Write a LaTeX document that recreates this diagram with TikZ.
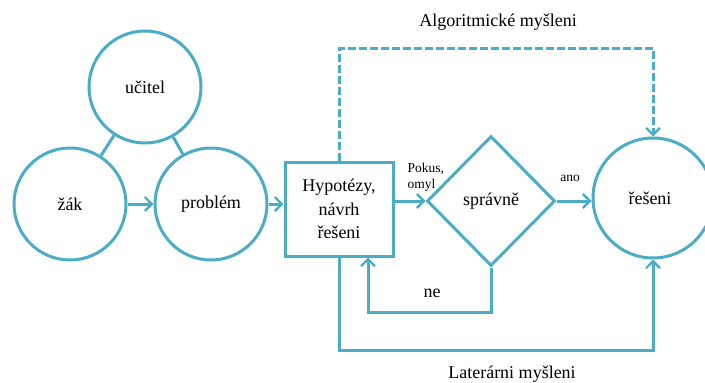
\documentclass[tikz,border=0pt]{standalone}
\usepackage{fontspec}
\setmainfont{Liberation Serif}
\usetikzlibrary{shapes.geometric,arrows.meta}
\definecolor{aqua}{RGB}{75, 172, 198}

\begin{document}
\begin{tikzpicture}[x=1pt,y=-1pt]
    \tikzstyle{cblock} = [circle, draw=aqua, line width=3pt, fill=white,
    minimum size=112pt, inner sep=0pt, font=\fontsize{18}{22}\selectfont];
    \tikzstyle{hblock} = [rectangle, draw=aqua, line width=3pt, fill=white,
    minimum width=108pt, minimum height=94pt, text width=100pt, align=center,
    font=\fontsize{18}{23.5}\selectfont];
    \tikzstyle{dblock} = [diamond, draw=aqua, line width=3pt, fill=white,
    minimum width=128pt, minimum height=130pt, inner sep=0pt, font=\fontsize{18}{22}\selectfont];
    \tikzstyle{lbl} = [font=\fontsize{18}{22}\selectfont];
    \tikzstyle{small} = [font=\fontsize{13.5}{16}\selectfont, align=left];
    \tikzstyle{link} = [draw=aqua, line width=3pt];
    \tikzstyle{line} = [link, -{Straight Barb[length=7pt,width=14pt,line width=2.4pt]}];
    \useasboundingbox (0,0) rectangle (705,383);
    \begin{scope}
      \clip (0,0) rectangle (705,383);
      % circles of the classroom
      \node [cblock] (ucitel) at (145,87) {u\v{c}itel};
      \node [cblock] (zak) at (70,204) {\v{z}\'ak};
      \node [cblock] (problem) at (211,204) {probl\'em};
      % the solving part
      \node [hblock] (hypo) at (339,209) {Hypot\'ezy,\\ n\'avrh\\ \v{r}e\v{s}eni};
      \node [dblock] (spravne) at (491,201) {spr\'avn\v{e}};
      \node [cblock, minimum size=120pt] (reseni) at (653,198) {};
    \end{scope}
    \node [lbl] at (650,198) {\v{r}e\v{s}eni};

    \coordinate (top) at (0,48);
    \coordinate (neline) at (0,312);
    \coordinate (bottom) at (0,350);

    % % Drawing the links
    \draw [link] (ucitel) -- (zak);
    \draw [link] (ucitel) -- (problem);
    \draw [line] (zak) -- (problem);
    \draw [line] (problem.east) -- (problem.east -| hypo.west);
    \draw [line] (hypo.east |- spravne.west) -- (spravne.west);
    \draw [line] (spravne.east) -- (spravne.east -| reseni.west);
    \draw [line, dash pattern=on 8pt off 3pt] (hypo.north) -- (hypo.north |- top) -| (reseni.north);
    \draw [line] (spravne.south) -- (spravne.south |- neline) -| ([xshift=29pt]hypo.south);
    \draw [line] (hypo.south) -- (hypo.south |- bottom) -| (reseni.south);

    \node [small, anchor=north west] (pokus) at (404,160) {Pokus,\\ omyl};
    \node [small] (ano) at (570,178) {ano};
    \node [lbl] (ne) at (432,293) {ne};
    \node [lbl] (alg) at (498,22) {Algoritmick\'e my\v{s}leni};
    \node [lbl] (lat) at (512,374) {Later\'arni my\v{s}leni};
\end{tikzpicture}
\end{document}
